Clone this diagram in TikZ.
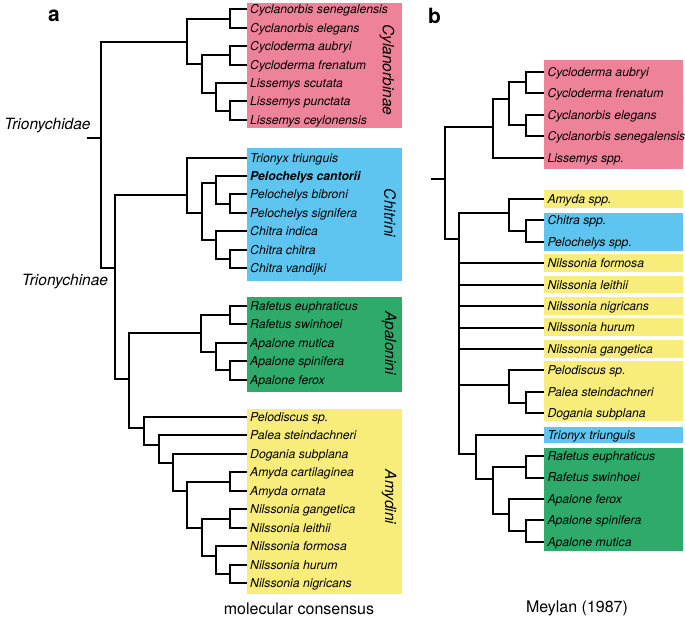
\documentclass[tikz,border=0pt]{standalone}
\usepackage{fontspec}
\setmainfont{TeX Gyre Heros}
\usepackage{tikz}

\definecolor{cyclpink}{HTML}{EE8298}
\definecolor{chitblue}{HTML}{5EC5F0}
\definecolor{apalgreen}{HTML}{2EAB6A}
\definecolor{amydyellow}{HTML}{F8EC7B}

\begin{document}
\begin{tikzpicture}[x=1pt,y=-1pt,
  branch/.style={line width=2pt},
  leaf/.style={anchor=west,inner sep=3pt,text height=8.8pt,text depth=0pt,
    font=\fontsize{12.2}{14}\selectfont\itshape},
  clade/.style={font=\fontsize{15.5}{18}\selectfont\itshape},
  caption/.style={font=\fontsize{16}{19}\selectfont},
  panel/.style={font=\fontsize{21}{24}\selectfont\bfseries}]
  \useasboundingbox (0,0) rectangle (685,620);

  % coloured boxes, panel a
  \fill[cyclpink]   (247.3,2.7)   rectangle (401.7,128.3);
  \fill[chitblue]   (247.3,148.3) rectangle (401.7,280.7);
  \fill[apalgreen]  (247.3,297.3) rectangle (401.7,391.7);
  \fill[amydyellow] (247.3,409)   rectangle (401.7,594.3);

  % coloured boxes, panel b
  \fill[cyclpink]   (544.3,60)    rectangle (682.7,169);
  \fill[amydyellow] (544.3,190)   rectangle (682.7,207.7);
  \fill[chitblue]   (544.3,213.3) rectangle (682.7,251);
  \fill[amydyellow] (544.3,254.3) rectangle (682.7,272);
  \fill[amydyellow] (544.3,276)   rectangle (682.7,293.3);
  \fill[amydyellow] (544.3,297.3) rectangle (682.7,315);
  \fill[amydyellow] (544.3,318.3) rectangle (682.7,336);
  \fill[amydyellow] (544.3,340)   rectangle (682.7,357.7);
  \fill[amydyellow] (544.3,361)   rectangle (682.7,420.7);
  \fill[chitblue]   (544.3,426.7) rectangle (682.7,443.3);
  \fill[apalgreen]  (544.3,448.3) rectangle (682.7,551);

  % panel letters and captions
  \node[panel] (pa) at (54,16) {a};
  \node[panel] (pb) at (434.5,15.5) {b};
  \node[caption] (capa) at (299,609) {molecular consensus};
  \node[caption] (capb) at (577,608) {Meylan (1987)};

  % clade names
  \node[clade] (trd) at (47.5,125.5) {Trionychidae};
  \node[clade] (trn) at (65,281.7) {Trionychinae};
  \node[clade,rotate=-90] (cyc) at (387,70) {Cylanorbinae};
  \node[clade,rotate=-90] (chi) at (390,213) {Chitrini};
  \node[clade,rotate=-90] (apa) at (389,343) {Apalonini};
  \node[clade,rotate=-90] (amy) at (389,497) {Amydini};

  % leaves, panel a
  \node[leaf] (a1)  at (247,9.5)   {Cyclanorbis senegalensis};
  \node[leaf] (a2)  at (247,27.9)  {Cyclanorbis elegans};
  \node[leaf] (a3)  at (247,46.3)  {Cycloderma aubryi};
  \node[leaf] (a4)  at (247,64.7)  {Cycloderma frenatum};
  \node[leaf] (a5)  at (247,83.1)  {Lissemys scutata};
  \node[leaf] (a6)  at (247,101.5) {Lissemys punctata};
  \node[leaf] (a7)  at (247,119.9) {Lissemys ceylonensis};
  \node[leaf] (a8)  at (247,157.7) {Trionyx triunguis};
  \node[leaf] (a9)  at (247,176.1) {\bfseries Pelochelys cantorii};
  \node[leaf] (a10) at (247,194.5) {Pelochelys bibroni};
  \node[leaf] (a11) at (247,212.9) {Pelochelys signifera};
  \node[leaf] (a12) at (247,231.3) {Chitra indica};
  \node[leaf] (a13) at (247,249.7) {Chitra chitra};
  \node[leaf] (a14) at (247,268.1) {Chitra vandijki};
  \node[leaf] (a15) at (247,306)   {Rafetus euphraticus};
  \node[leaf] (a16) at (247,324.4) {Rafetus swinhoei};
  \node[leaf] (a17) at (247,342.8) {Apalone mutica};
  \node[leaf] (a18) at (247,361.2) {Apalone spinifera};
  \node[leaf] (a19) at (247,379.6) {Apalone ferox};
  \node[leaf] (a20) at (247,416.7) {Pelodiscus sp.};
  \node[leaf] (a21) at (247,435.2) {Palea steindachneri};
  \node[leaf] (a22) at (247,453.7) {Dogania subplana};
  \node[leaf] (a23) at (247,472.2) {Amyda cartilaginea};
  \node[leaf] (a24) at (247,490.7) {Amyda ornata};
  \node[leaf] (a25) at (247,509.2) {Nilssonia gangetica};
  \node[leaf] (a26) at (247,527.7) {Nilssonia leithii};
  \node[leaf] (a27) at (247,546.2) {Nilssonia formosa};
  \node[leaf] (a28) at (247,564.7) {Nilssonia hurum};
  \node[leaf] (a29) at (247,583.2) {Nilssonia nigricans};

  % inner nodes, panel a
  \coordinate (aRs) at (86.7,138.3);
  \coordinate (aR)  at (101,138.3);
  \coordinate (aC)  at (186.7,41.7);
  \coordinate (aCa) at (230,18.7);
  \coordinate (aCb) at (201.7,64.3);
  \coordinate (aCc) at (230,55.5);
  \coordinate (aCd) at (216,93.3);
  \coordinate (aCe) at (230,110.7);
  \coordinate (aT)  at (115,267.7);
  \coordinate (aCh) at (186.7,195);
  \coordinate (aCi) at (201.7,213.3);
  \coordinate (aPe) at (216,182.7);
  \coordinate (aPp) at (230,203.7);
  \coordinate (aCx) at (216,240);
  \coordinate (aCy) at (230,258.9);
  \coordinate (aTb) at (129.3,379.3);
  \coordinate (aAp) at (201,333.3);
  \coordinate (aRa) at (230,315.2);
  \coordinate (aAq) at (216,352.3);
  \coordinate (aAr) at (230,370.4);
  \coordinate (aAm) at (144.3,427.7);
  \coordinate (aAn) at (159,445);
  \coordinate (aAo) at (172.7,463.3);
  \coordinate (aAs) at (187,491);
  \coordinate (aAy) at (230,481.5);
  \coordinate (aNi) at (201.7,528.3);
  \coordinate (aNg) at (230,518.5);
  \coordinate (aNb) at (216,556);
  \coordinate (aNh) at (230,574);

  % branches, panel a
  \draw[branch] (aRs) -- (aR);
  \draw[branch] (aR) |- (aC)  (aR) |- (aT);
  \draw[branch] (aC) |- (aCa) (aC) |- (aCb);
  \draw[branch] (aCa) |- (a1.west) (aCa) |- (a2.west);
  \draw[branch] (aCb) |- (aCc) (aCb) |- (aCd);
  \draw[branch] (aCc) |- (a3.west) (aCc) |- (a4.west);
  \draw[branch] (aCd) |- (a5.west) (aCd) |- (aCe);
  \draw[branch] (aCe) |- (a6.west) (aCe) |- (a7.west);
  \draw[branch] (aT) |- (aCh) (aT) |- (aTb);
  \draw[branch] (aCh) |- (a8.west) (aCh) |- (aCi);
  \draw[branch] (aCi) |- (aPe) (aCi) |- (aCx);
  \draw[branch] (aPe) |- (a9.west) (aPe) |- (aPp);
  \draw[branch] (aPp) |- (a10.west) (aPp) |- (a11.west);
  \draw[branch] (aCx) |- (a12.west) (aCx) |- (aCy);
  \draw[branch] (aCy) |- (a13.west) (aCy) |- (a14.west);
  \draw[branch] (aTb) |- (aAp) (aTb) |- (aAm);
  \draw[branch] (aAp) |- (aRa) (aAp) |- (aAq);
  \draw[branch] (aRa) |- (a15.west) (aRa) |- (a16.west);
  \draw[branch] (aAq) |- (a17.west) (aAq) |- (aAr);
  \draw[branch] (aAr) |- (a18.west) (aAr) |- (a19.west);
  \draw[branch] (aAm) |- (a20.west) (aAm) |- (aAn);
  \draw[branch] (aAn) |- (a21.west) (aAn) |- (aAo);
  \draw[branch] (aAo) |- (a22.west) (aAo) |- (aAs);
  \draw[branch] (aAs) |- (aAy) (aAs) |- (aNi);
  \draw[branch] (aAy) |- (a23.west) (aAy) |- (a24.west);
  \draw[branch] (aNi) |- (aNg) (aNi) |- (aNb);
  \draw[branch] (aNg) |- (a25.west) (aNg) |- (a26.west);
  \draw[branch] (aNb) |- (a27.west) (aNb) |- (aNh);
  \draw[branch] (aNh) |- (a28.west) (aNh) |- (a29.west);

  % leaves, panel b
  \node[leaf] (b1)  at (544.3,71.7)  {Cycloderma aubryi};
  \node[leaf] (b2)  at (544.3,93.2)  {Cycloderma frenatum};
  \node[leaf] (b3)  at (544.3,114.7) {Cyclanorbis elegans};
  \node[leaf] (b4)  at (544.3,136.2) {Cyclanorbis senegalensis};
  \node[leaf] (b5)  at (544.3,157.7) {Lissemys spp.};
  \node[leaf] (b6)  at (544.3,199)   {Amyda spp.};
  \node[leaf] (b7)  at (544.3,220.4) {Chitra spp.};
  \node[leaf] (b8)  at (544.3,241.8) {Pelochelys spp.};
  \node[leaf] (b9)  at (544.3,263.3) {Nilssonia formosa};
  \node[leaf] (b10) at (544.3,284.7) {Nilssonia leithii};
  \node[leaf] (b11) at (544.3,306.1) {Nilssonia nigricans};
  \node[leaf] (b12) at (544.3,327.5) {Nilssonia hurum};
  \node[leaf] (b13) at (544.3,348.9) {Nilssonia gangetica};
  \node[leaf] (b14) at (544.3,370.4) {Pelodiscus sp.};
  \node[leaf] (b15) at (544.3,391.8) {Palea steindachneri};
  \node[leaf] (b16) at (544.3,413.2) {Dogania subplana};
  \node[leaf] (b17) at (544.3,434.6) {Trionyx triunguis};
  \node[leaf] (b18) at (544.3,456)   {Rafetus euphraticus};
  \node[leaf] (b19) at (544.3,477.5) {Rafetus swinhoei};
  \node[leaf] (b20) at (544.3,498.9) {Apalone ferox};
  \node[leaf] (b21) at (544.3,520.3) {Apalone spinifera};
  \node[leaf] (b22) at (544.3,541.7) {Apalone mutica};

  % inner nodes, panel b
  \coordinate (bRs) at (430.7,179);
  \coordinate (bR)  at (445,179);
  \coordinate (bP)  at (492.7,126.7);
  \coordinate (bPa) at (509.3,99.3);
  \coordinate (bPb) at (526,82.45);
  \coordinate (bPc) at (526,125.45);
  \coordinate (bS)  at (459.3,239);
  \coordinate (bSa) at (509.3,213.3);
  \coordinate (bSd) at (526,231.1);
  \coordinate (bSb) at (509.3,385);
  \coordinate (bSe) at (526,402.5);
  \coordinate (bSc) at (476,454.3);
  \coordinate (bSf) at (492.7,479.3);
  \coordinate (bSg) at (526,466.75);
  \coordinate (bSh) at (509.3,514);
  \coordinate (bSi) at (526,531);

  % branches, panel b
  \draw[branch] (bRs) -- (bR);
  \draw[branch] (bR) |- (bP) (bR) |- (bS);
  \draw[branch] (bP) |- (bPa) (bP) |- (b5.west);
  \draw[branch] (bPa) |- (bPb) (bPa) |- (bPc);
  \draw[branch] (bPb) |- (b1.west) (bPb) |- (b2.west);
  \draw[branch] (bPc) |- (b3.west) (bPc) |- (b4.west);
  \draw[branch] (bS) |- (bSa) (bS) |- (bSb) (bS) |- (bSc);
  \draw[branch] (bS) |- (b9.west)  (bS) |- (b10.west) (bS) |- (b11.west)
                (bS) |- (b12.west) (bS) |- (b13.west);
  \draw[branch] (bSa) |- (b6.west) (bSa) |- (bSd);
  \draw[branch] (bSd) |- (b7.west) (bSd) |- (b8.west);
  \draw[branch] (bSb) |- (b14.west) (bSb) |- (bSe);
  \draw[branch] (bSe) |- (b15.west) (bSe) |- (b16.west);
  \draw[branch] (bSc) |- (b17.west) (bSc) |- (bSf);
  \draw[branch] (bSf) |- (bSg) (bSf) |- (bSh);
  \draw[branch] (bSg) |- (b18.west) (bSg) |- (b19.west);
  \draw[branch] (bSh) |- (b20.west) (bSh) |- (bSi);
  \draw[branch] (bSi) |- (b21.west) (bSi) |- (b22.west);
\end{tikzpicture}
\end{document}
